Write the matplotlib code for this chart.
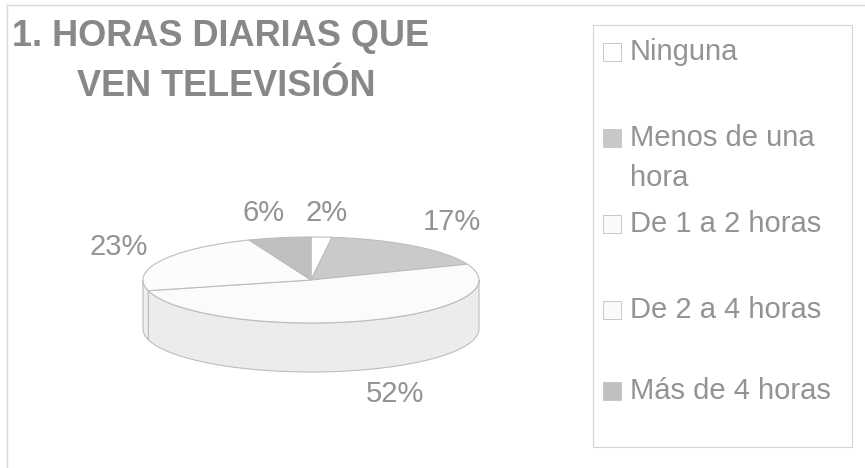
import numpy as np
import matplotlib.pyplot as plt
from matplotlib.patches import Polygon, Rectangle

plt.rcParams['font.family'] = ['Liberation Sans', 'DejaVu Sans']

# datos del grafico
categorias = ["Ninguna", "Menos de una\nhora", "De 1 a 2 horas", "De 2 a 4 horas", "Más de 4 horas"]
porcentajes = [2, 17, 52, 23, 6]
titulo = ["1. HORAS DIARIAS QUE", "VEN TELEVISIÓN"]

# estilo
colores_cara = ["#ffffff", "#cacaca", "#fbfbfb", "#fcfcfc", "#c0c0c0"]
colores_lado = ["#eeeeee", "#b4b4b4", "#ececec", "#efefef", "#aaaaaa"]
colores_leyenda = ["#ffffff", "#c8c8c8", "#fafafa", "#fafafa", "#c0c0c0"]
gris_texto = "#939393"
borde = "#bdbdbd"

cx, cy, rx, ry, prof = 311, 280, 168, 43, 49
pos_etiquetas = [(327, 213), (452, 222), (395, 394), (119, 247), (264, 213)]
pos_leyenda = [52, 138, 224, 310, 391]

fig = plt.figure(figsize=(8.65, 4.68), dpi=100)
ax = fig.add_axes([0, 0, 1, 1])
ax.set_xlim(0, 865)
ax.set_ylim(468, 0)
ax.axis('off')


def arco(a0, a1, n=80):
    t = np.radians(np.linspace(a0, a1, n))
    return cx + rx * np.cos(t), cy - ry * np.sin(t)


total = sum(porcentajes)
inicio = 90.0
angulos = []
for p in porcentajes:
    fin = inicio - 360.0 * p / total
    angulos.append((inicio, fin))
    inicio = fin

# paredes laterales (parte frontal)
for (a0, a1), col in zip(angulos, colores_lado):
    hi = min(a0, 0)
    lo = max(a1, -180)
    if hi > lo:
        xs, ys = arco(hi, lo)
        pts = np.vstack([np.column_stack([xs, ys]),
                         np.column_stack([xs[::-1], ys[::-1] + prof])])
        ax.add_patch(Polygon(pts, closed=True, facecolor=col, edgecolor=borde, lw=0.8, zorder=2))

# caras superiores
for (a0, a1), col in zip(angulos, colores_cara):
    xs, ys = arco(a0, a1)
    pts = np.vstack([[cx, cy], np.column_stack([xs, ys])])
    ax.add_patch(Polygon(pts, closed=True, facecolor=col, edgecolor=borde, lw=0.8, zorder=3))

# etiquetas de porcentaje
for p, (x, y) in zip(porcentajes, pos_etiquetas):
    ax.text(x, y, "%d%%" % p, ha='center', va='center', fontsize=21, color=gris_texto)

# titulo
ax.text(221, 37, titulo[0], ha='center', va='center', fontsize=26, fontweight='bold', color="#888888")
ax.text(226, 86, titulo[1], ha='center', va='center', fontsize=26, fontweight='bold', color="#888888")

# leyenda
ax.add_patch(Rectangle((593, 25), 259, 422, facecolor='none', edgecolor="#d4d4d4", lw=0.8))
for cat, col, y in zip(categorias, colores_leyenda, pos_leyenda):
    ax.add_patch(Rectangle((603, y - 9), 18, 18, facecolor=col, edgecolor="#c8c8c8", lw=0.7))
    for i, linea in enumerate(cat.split("\n")):
        ax.text(630, y + i * 40, linea, ha='left', va='center', fontsize=21, color=gris_texto)

# borde exterior (solo arriba e izquierda visibles)
ax.plot([7, 865], [5, 5], color="#d8d8d8", lw=1)
ax.plot([7, 7], [5, 468], color="#d8d8d8", lw=1)

fig.savefig("out.png", dpi=100)
